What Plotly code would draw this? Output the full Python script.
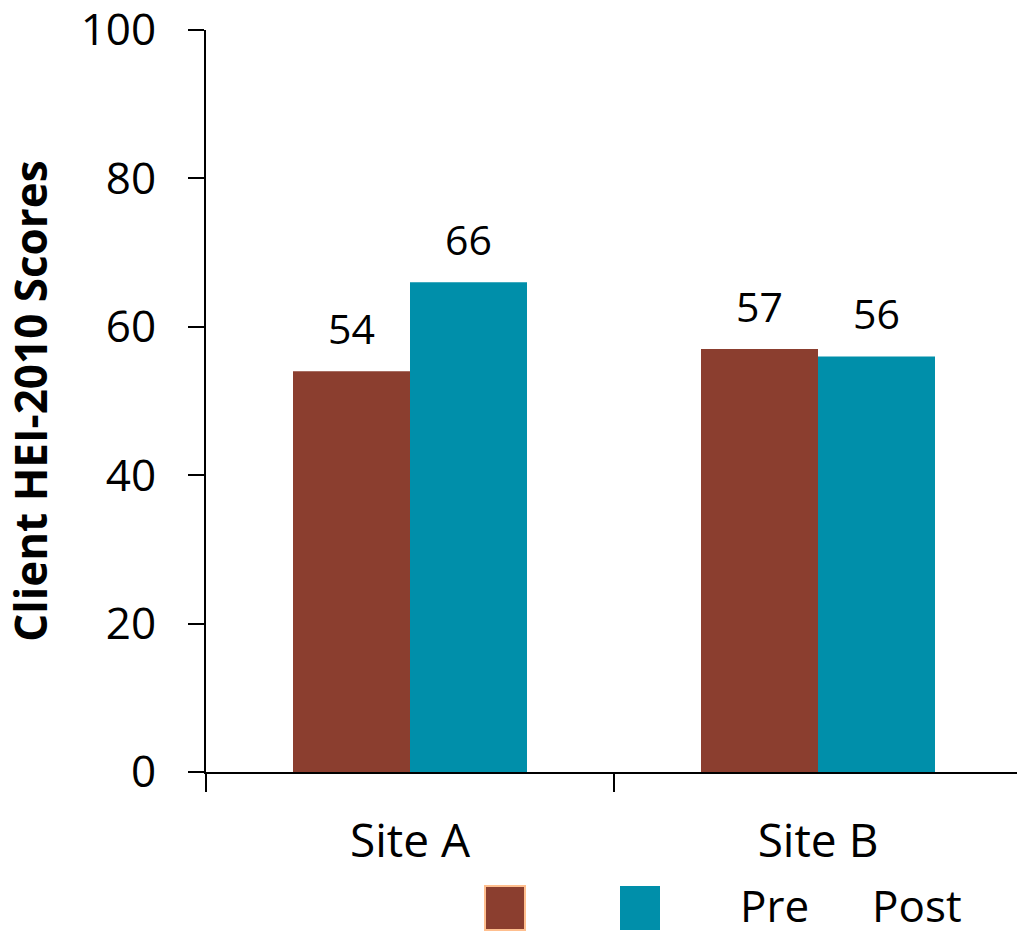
import plotly.graph_objects as go

# Client HEI-2010 scores by site, before and after the program
sites = ["Site A", "Site B"]
pre_scores = [54, 57]
post_scores = [66, 56]
series_names = ["Pre", "Post"]

PRE_COLOR = "#8B3E2F"
POST_COLOR = "#008FAA"
FONT = "Open Sans"

W, H = 1017, 936
ML, MR, MT, MB = 206, 0, 30, 164
PLOT_W = W - ML - MR
PLOT_H = H - MT - MB
CAT_PX = 408  # pixels per category slot
BARGAP = 1 - 234 / CAT_PX


def px_x(x):
    return (x - ML) / PLOT_W


def px_y(y):
    return (H - MB - y) / PLOT_H


fig = go.Figure()
fig.add_trace(go.Bar(x=sites, y=pre_scores, name=series_names[0],
                     marker=dict(color=PRE_COLOR, line=dict(width=0)),
                     showlegend=False))
fig.add_trace(go.Bar(x=sites, y=post_scores, name=series_names[1],
                     marker=dict(color=POST_COLOR, line=dict(width=0)),
                     showlegend=False))

# value labels above each bar
half = (1 - BARGAP) / 4
annotations = []
for i, site in enumerate(sites):
    for val, off in ((pre_scores[i], -half), (post_scores[i], half)):
        annotations.append(dict(
            x=i + off, y=val, xref="x", yref="y", text=str(val),
            showarrow=False, yanchor="bottom", yshift=13,
            font=dict(family=FONT, size=41, color="black")))

# legend: colour swatches followed by series names
shapes = [
    dict(type="rect", xref="paper", yref="paper",
         x0=px_x(485), x1=px_x(525), y0=px_y(930), y1=px_y(886),
         fillcolor=PRE_COLOR, line=dict(color="#FFBF8F", width=2)),
    dict(type="rect", xref="paper", yref="paper",
         x0=px_x(620), x1=px_x(660), y0=px_y(930), y1=px_y(886),
         fillcolor=POST_COLOR, line=dict(width=0)),
]
for name, cx in zip(series_names, (774, 917)):
    annotations.append(dict(
        x=px_x(cx), y=px_y(905), xref="paper", yref="paper", text=name,
        showarrow=False, xanchor="center", yanchor="middle",
        font=dict(family=FONT, size=44, color="black")))

fig.update_layout(
    width=W, height=H,
    margin=dict(l=ML, r=MR, t=MT, b=MB, autoexpand=False),
    paper_bgcolor="white", plot_bgcolor="white",
    barmode="group", bargap=BARGAP, bargroupgap=0,
    font=dict(family=FONT, color="black"),
    annotations=annotations, shapes=shapes,
    showlegend=False,
)
fig.update_xaxes(
    type="category", range=[-0.5, -0.5 + PLOT_W / CAT_PX],
    tickson="boundaries", ticks="outside", ticklen=18, tickwidth=2,
    tickcolor="black", showline=True, linecolor="black", linewidth=2,
    showgrid=False, zeroline=False,
    tickfont=dict(family=FONT, size=46, color="black"),
    ticklabelstandoff=28,
)
fig.update_yaxes(
    range=[0, 100], dtick=20, ticks="outside", ticklen=16, tickwidth=2,
    tickcolor="black", showline=True, linecolor="black", linewidth=2,
    showgrid=False, zeroline=False, ticklabeloverflow="allow",
    tickfont=dict(family=FONT, size=44, color="black"),
    ticklabelstandoff=23,
    title=dict(text="<b>Client HEI-2010 Scores</b>",
               font=dict(family=FONT, size=44, color="black"), standoff=26),
)

fig.write_html("out.html")
